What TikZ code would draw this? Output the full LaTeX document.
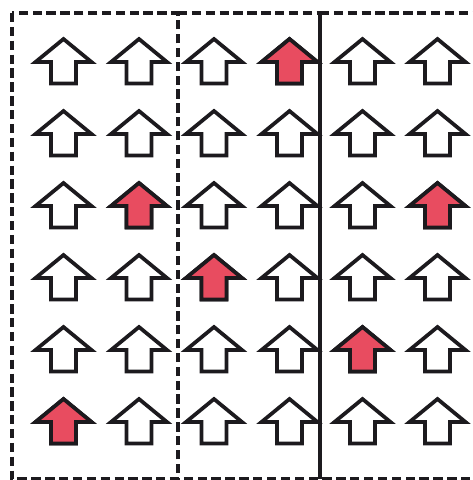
\documentclass[tikz,border=0pt]{standalone}
\usetikzlibrary{calc}
\definecolor{inkline}{RGB}{28,26,30}
\definecolor{arrowred}{RGB}{232,76,96}

\tikzset{
    boxline/.style={line width=2.6pt, inkline, dash pattern=on 7pt off 3.4pt},
    arrowline/.style={line width=2.8pt, inkline, line join=miter},
    pics/uparrow/.style={code={
        \draw[arrowline, fill=#1] (0,0) -- (28,23) -- (12.5,23) -- (12.5,44.5)
            -- (-12.5,44.5) -- (-12.5,23) -- (-28,23) -- cycle;
    }},
}

\begin{document}
\begin{tikzpicture}[x=0.75pt, y=-0.75pt]
        \useasboundingbox (0,0) rectangle (473,480);
        \clip (0,0) rectangle (473,480);

        % Dashed groups (shared edges drawn once)
        \draw[boxline] (12,13) rectangle (178,479);
        \draw[boxline] (178,13) -- (320,13) -- (320,479) -- (178,479);
        \draw[boxline] (320,13) -- (495,13) -- (495,479) -- (320,479);
        \draw[line width=2.6pt, inkline] (320,13) -- (320,479);

        % Grid of arrows (column x, row y)
        \foreach \cx in {63.5,139,214,289.5,362.5,437.5} {
            \foreach \cy in {39,111,183,255,327,399} {
                \pic at (\cx,\cy) {uparrow=white};
            }
        }

        % Highlighted arrows
        \pic at (289.5,39) {uparrow=arrowred};
        \pic at (139,183) {uparrow=arrowred};
        \pic at (437.5,183) {uparrow=arrowred};
        \pic at (214,255) {uparrow=arrowred};
        \pic at (362.5,327) {uparrow=arrowred};
        \pic at (63.5,399) {uparrow=arrowred};
    \end{tikzpicture}
\end{document}
